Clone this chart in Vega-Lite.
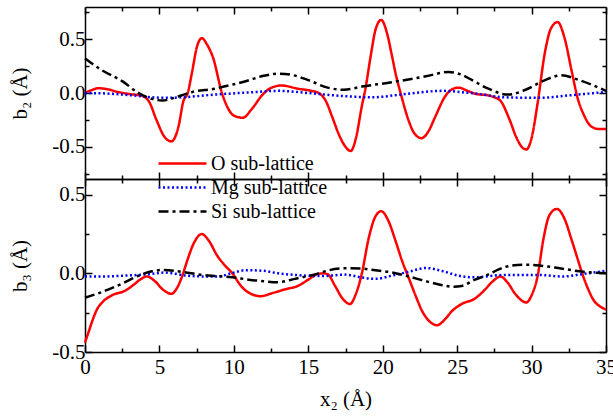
{
  "$schema": "https://vega.github.io/schema/vega-lite/v6.json",
  "padding": {"left": 9, "top": 1, "right": 9, "bottom": 5},
  "bounds": "flush",
  "spacing": 0,
  "config": {
    "view": {"stroke": null},
    "font": "Liberation Serif",
    "axis": {
      "labelFont": "Liberation Serif", "labelFontSize": 21, "labelColor": "#000",
      "titleFont": "Liberation Serif", "titleFontSize": 21, "titleFontWeight": "normal", "titleColor": "#000",
      "domainColor": "#000", "domainWidth": 1.5, "tickColor": "#000", "tickWidth": 1.5,
      "grid": false, "labelFlush": false, "labelOverlap": false
    },
    "legend": {
      "labelFont": "Liberation Serif", "labelFontSize": 20, "labelColor": "#000",
      "symbolType": "M-2,0H2", "symbolSize": 576, "symbolStrokeWidth": 2.5, "labelOffset": 15, "rowPadding": 0
    }
  },
  "datasets": {
    "top": [
      {"s":"O sub-lattice","x":0,"y":0.0},{"s":"O sub-lattice","x":0.5,"y":0.03},{"s":"O sub-lattice","x":0.9,"y":0.045},{"s":"O sub-lattice","x":1.5,"y":0.035},{"s":"O sub-lattice","x":2.2,"y":0.01},{"s":"O sub-lattice","x":3.0,"y":-0.01},{"s":"O sub-lattice","x":3.8,"y":-0.025},{"s":"O sub-lattice","x":4.3,"y":-0.08},{"s":"O sub-lattice","x":4.8,"y":-0.25},{"s":"O sub-lattice","x":5.3,"y":-0.40},{"s":"O sub-lattice","x":5.8,"y":-0.45},{"s":"O sub-lattice","x":6.3,"y":-0.30},{"s":"O sub-lattice","x":6.6,"y":-0.08},{"s":"O sub-lattice","x":6.9,"y":0.0},{"s":"O sub-lattice","x":7.2,"y":0.2},{"s":"O sub-lattice","x":7.5,"y":0.42},{"s":"O sub-lattice","x":7.85,"y":0.51},{"s":"O sub-lattice","x":8.2,"y":0.45},{"s":"O sub-lattice","x":8.6,"y":0.33},{"s":"O sub-lattice","x":9.2,"y":0.0},{"s":"O sub-lattice","x":9.6,"y":-0.14},{"s":"O sub-lattice","x":10.0,"y":-0.21},{"s":"O sub-lattice","x":10.6,"y":-0.23},{"s":"O sub-lattice","x":11.2,"y":-0.15},{"s":"O sub-lattice","x":11.9,"y":-0.02},{"s":"O sub-lattice","x":12.4,"y":0.04},{"s":"O sub-lattice","x":13.2,"y":0.07},{"s":"O sub-lattice","x":14.3,"y":0.04},{"s":"O sub-lattice","x":15.2,"y":0.02},{"s":"O sub-lattice","x":15.7,"y":0.0},{"s":"O sub-lattice","x":16.2,"y":-0.08},{"s":"O sub-lattice","x":16.6,"y":-0.22},{"s":"O sub-lattice","x":17.1,"y":-0.40},{"s":"O sub-lattice","x":17.5,"y":-0.50},{"s":"O sub-lattice","x":17.85,"y":-0.54},{"s":"O sub-lattice","x":18.2,"y":-0.42},{"s":"O sub-lattice","x":18.6,"y":-0.12},{"s":"O sub-lattice","x":18.85,"y":0.05},{"s":"O sub-lattice","x":19.2,"y":0.35},{"s":"O sub-lattice","x":19.5,"y":0.58},{"s":"O sub-lattice","x":19.9,"y":0.68},{"s":"O sub-lattice","x":20.3,"y":0.55},{"s":"O sub-lattice","x":20.6,"y":0.36},{"s":"O sub-lattice","x":20.9,"y":0.16},{"s":"O sub-lattice","x":21.2,"y":0.0},{"s":"O sub-lattice","x":21.75,"y":-0.26},{"s":"O sub-lattice","x":22.1,"y":-0.37},{"s":"O sub-lattice","x":22.6,"y":-0.42},{"s":"O sub-lattice","x":23.1,"y":-0.35},{"s":"O sub-lattice","x":23.5,"y":-0.23},{"s":"O sub-lattice","x":24.2,"y":-0.03},{"s":"O sub-lattice","x":24.6,"y":0.03},{"s":"O sub-lattice","x":25.1,"y":0.05},{"s":"O sub-lattice","x":25.7,"y":0.02},{"s":"O sub-lattice","x":26.3,"y":-0.01},{"s":"O sub-lattice","x":27.0,"y":-0.02},{"s":"O sub-lattice","x":27.5,"y":-0.04},{"s":"O sub-lattice","x":27.9,"y":-0.07},{"s":"O sub-lattice","x":28.5,"y":-0.24},{"s":"O sub-lattice","x":29.0,"y":-0.42},{"s":"O sub-lattice","x":29.4,"y":-0.51},{"s":"O sub-lattice","x":29.65,"y":-0.525},{"s":"O sub-lattice","x":30.0,"y":-0.42},{"s":"O sub-lattice","x":30.4,"y":-0.1},{"s":"O sub-lattice","x":30.9,"y":0.38},{"s":"O sub-lattice","x":31.3,"y":0.6},{"s":"O sub-lattice","x":31.75,"y":0.66},{"s":"O sub-lattice","x":32.2,"y":0.52},{"s":"O sub-lattice","x":32.7,"y":0.2},{"s":"O sub-lattice","x":33.1,"y":-0.05},{"s":"O sub-lattice","x":33.5,"y":-0.2},{"s":"O sub-lattice","x":34.0,"y":-0.31},{"s":"O sub-lattice","x":34.5,"y":-0.335},{"s":"O sub-lattice","x":35.0,"y":-0.335},
      {"s":"Mg sub-lattice","x":0,"y":0.0},{"s":"Mg sub-lattice","x":1.5,"y":-0.005},{"s":"Mg sub-lattice","x":3.0,"y":-0.02},{"s":"Mg sub-lattice","x":4.5,"y":-0.04},{"s":"Mg sub-lattice","x":5.5,"y":-0.045},{"s":"Mg sub-lattice","x":6.5,"y":-0.04},{"s":"Mg sub-lattice","x":8.7,"y":-0.015},{"s":"Mg sub-lattice","x":11.0,"y":0.005},{"s":"Mg sub-lattice","x":13.0,"y":0.02},{"s":"Mg sub-lattice","x":15.0,"y":0.0},{"s":"Mg sub-lattice","x":17.5,"y":-0.03},{"s":"Mg sub-lattice","x":19.3,"y":-0.04},{"s":"Mg sub-lattice","x":21.5,"y":-0.01},{"s":"Mg sub-lattice","x":24.0,"y":0.02},{"s":"Mg sub-lattice","x":25.5,"y":0.005},{"s":"Mg sub-lattice","x":26.5,"y":-0.01},{"s":"Mg sub-lattice","x":28.2,"y":-0.04},{"s":"Mg sub-lattice","x":30.5,"y":-0.045},{"s":"Mg sub-lattice","x":32.7,"y":-0.02},{"s":"Mg sub-lattice","x":35,"y":0.01},
      {"s":"Si sub-lattice","x":0,"y":0.32},{"s":"Si sub-lattice","x":1.1,"y":0.215},{"s":"Si sub-lattice","x":2.5,"y":0.11},{"s":"Si sub-lattice","x":3.6,"y":0.0},{"s":"Si sub-lattice","x":4.5,"y":-0.055},{"s":"Si sub-lattice","x":5.2,"y":-0.07},{"s":"Si sub-lattice","x":6.3,"y":-0.03},{"s":"Si sub-lattice","x":7.2,"y":0.01},{"s":"Si sub-lattice","x":8.7,"y":0.04},{"s":"Si sub-lattice","x":9.2,"y":0.055},{"s":"Si sub-lattice","x":10.8,"y":0.11},{"s":"Si sub-lattice","x":12.0,"y":0.16},{"s":"Si sub-lattice","x":13.0,"y":0.18},{"s":"Si sub-lattice","x":14.0,"y":0.165},{"s":"Si sub-lattice","x":15.0,"y":0.12},{"s":"Si sub-lattice","x":16.3,"y":0.05},{"s":"Si sub-lattice","x":17.4,"y":0.03},{"s":"Si sub-lattice","x":18.6,"y":0.06},{"s":"Si sub-lattice","x":20.6,"y":0.10},{"s":"Si sub-lattice","x":22.9,"y":0.155},{"s":"Si sub-lattice","x":24.4,"y":0.195},{"s":"Si sub-lattice","x":25.3,"y":0.17},{"s":"Si sub-lattice","x":26.0,"y":0.12},{"s":"Si sub-lattice","x":27.1,"y":0.04},{"s":"Si sub-lattice","x":28.4,"y":-0.015},{"s":"Si sub-lattice","x":29.6,"y":0.03},{"s":"Si sub-lattice","x":30.9,"y":0.12},{"s":"Si sub-lattice","x":32.0,"y":0.165},{"s":"Si sub-lattice","x":33.2,"y":0.12},{"s":"Si sub-lattice","x":35.0,"y":0.02}
    ],
    "bot": [
      {"s":"O sub-lattice","x":0,"y":-0.44},{"s":"O sub-lattice","x":0.25,"y":-0.37},{"s":"O sub-lattice","x":0.5,"y":-0.30},{"s":"O sub-lattice","x":0.8,"y":-0.23},{"s":"O sub-lattice","x":1.15,"y":-0.185},{"s":"O sub-lattice","x":1.8,"y":-0.14},{"s":"O sub-lattice","x":2.7,"y":-0.11},{"s":"O sub-lattice","x":3.3,"y":-0.07},{"s":"O sub-lattice","x":3.7,"y":-0.04},{"s":"O sub-lattice","x":4.15,"y":-0.02},{"s":"O sub-lattice","x":4.7,"y":-0.05},{"s":"O sub-lattice","x":5.2,"y":-0.1},{"s":"O sub-lattice","x":5.8,"y":-0.13},{"s":"O sub-lattice","x":6.2,"y":-0.09},{"s":"O sub-lattice","x":6.5,"y":-0.025},{"s":"O sub-lattice","x":6.9,"y":0.09},{"s":"O sub-lattice","x":7.3,"y":0.19},{"s":"O sub-lattice","x":7.85,"y":0.25},{"s":"O sub-lattice","x":8.3,"y":0.21},{"s":"O sub-lattice","x":8.9,"y":0.11},{"s":"O sub-lattice","x":9.4,"y":0.05},{"s":"O sub-lattice","x":9.9,"y":0.0},{"s":"O sub-lattice","x":10.4,"y":-0.07},{"s":"O sub-lattice","x":10.8,"y":-0.11},{"s":"O sub-lattice","x":11.8,"y":-0.145},{"s":"O sub-lattice","x":12.6,"y":-0.125},{"s":"O sub-lattice","x":13.5,"y":-0.1},{"s":"O sub-lattice","x":14.3,"y":-0.08},{"s":"O sub-lattice","x":15.0,"y":-0.04},{"s":"O sub-lattice","x":15.6,"y":-0.005},{"s":"O sub-lattice","x":16.0,"y":0.0},{"s":"O sub-lattice","x":16.3,"y":-0.005},{"s":"O sub-lattice","x":16.8,"y":-0.08},{"s":"O sub-lattice","x":17.3,"y":-0.16},{"s":"O sub-lattice","x":17.8,"y":-0.195},{"s":"O sub-lattice","x":18.2,"y":-0.13},{"s":"O sub-lattice","x":18.6,"y":0.0},{"s":"O sub-lattice","x":19.05,"y":0.22},{"s":"O sub-lattice","x":19.5,"y":0.36},{"s":"O sub-lattice","x":19.9,"y":0.395},{"s":"O sub-lattice","x":20.4,"y":0.33},{"s":"O sub-lattice","x":20.85,"y":0.21},{"s":"O sub-lattice","x":21.3,"y":0.08},{"s":"O sub-lattice","x":21.75,"y":-0.03},{"s":"O sub-lattice","x":22.2,"y":-0.14},{"s":"O sub-lattice","x":22.65,"y":-0.24},{"s":"O sub-lattice","x":23.2,"y":-0.31},{"s":"O sub-lattice","x":23.65,"y":-0.33},{"s":"O sub-lattice","x":24.2,"y":-0.29},{"s":"O sub-lattice","x":24.65,"y":-0.24},{"s":"O sub-lattice","x":25.3,"y":-0.195},{"s":"O sub-lattice","x":26.2,"y":-0.16},{"s":"O sub-lattice","x":26.8,"y":-0.11},{"s":"O sub-lattice","x":27.4,"y":-0.05},{"s":"O sub-lattice","x":27.9,"y":-0.02},{"s":"O sub-lattice","x":28.4,"y":-0.06},{"s":"O sub-lattice","x":28.9,"y":-0.13},{"s":"O sub-lattice","x":29.65,"y":-0.185},{"s":"O sub-lattice","x":30.0,"y":-0.14},{"s":"O sub-lattice","x":30.4,"y":-0.02},{"s":"O sub-lattice","x":30.8,"y":0.22},{"s":"O sub-lattice","x":31.2,"y":0.37},{"s":"O sub-lattice","x":31.7,"y":0.41},{"s":"O sub-lattice","x":32.2,"y":0.35},{"s":"O sub-lattice","x":32.7,"y":0.21},{"s":"O sub-lattice","x":33.1,"y":0.09},{"s":"O sub-lattice","x":33.4,"y":0.0},{"s":"O sub-lattice","x":33.8,"y":-0.1},{"s":"O sub-lattice","x":34.2,"y":-0.175},{"s":"O sub-lattice","x":34.6,"y":-0.21},{"s":"O sub-lattice","x":35.0,"y":-0.23},
      {"s":"Mg sub-lattice","x":0,"y":-0.02},{"s":"Mg sub-lattice","x":1.2,"y":-0.02},{"s":"Mg sub-lattice","x":2.5,"y":-0.015},{"s":"Mg sub-lattice","x":4.3,"y":-0.005},{"s":"Mg sub-lattice","x":5.3,"y":0.005},{"s":"Mg sub-lattice","x":6.9,"y":-0.015},{"s":"Mg sub-lattice","x":8.3,"y":-0.02},{"s":"Mg sub-lattice","x":9.0,"y":-0.02},{"s":"Mg sub-lattice","x":9.8,"y":0.0},{"s":"Mg sub-lattice","x":10.8,"y":0.02},{"s":"Mg sub-lattice","x":11.9,"y":0.017},{"s":"Mg sub-lattice","x":13.0,"y":0.0},{"s":"Mg sub-lattice","x":14.1,"y":-0.01},{"s":"Mg sub-lattice","x":15.9,"y":-0.017},{"s":"Mg sub-lattice","x":17.5,"y":-0.008},{"s":"Mg sub-lattice","x":18.5,"y":-0.025},{"s":"Mg sub-lattice","x":19.5,"y":-0.035},{"s":"Mg sub-lattice","x":20.6,"y":-0.015},{"s":"Mg sub-lattice","x":21.75,"y":0.01},{"s":"Mg sub-lattice","x":22.9,"y":0.034},{"s":"Mg sub-lattice","x":24.0,"y":0.015},{"s":"Mg sub-lattice","x":25.1,"y":-0.015},{"s":"Mg sub-lattice","x":26.2,"y":-0.025},{"s":"Mg sub-lattice","x":28.2,"y":-0.01},{"s":"Mg sub-lattice","x":30.5,"y":-0.01},{"s":"Mg sub-lattice","x":32.1,"y":-0.02},{"s":"Mg sub-lattice","x":33.4,"y":-0.005},{"s":"Mg sub-lattice","x":35.0,"y":0.017},
      {"s":"Si sub-lattice","x":0,"y":-0.155},{"s":"Si sub-lattice","x":1.1,"y":-0.12},{"s":"Si sub-lattice","x":2.5,"y":-0.065},{"s":"Si sub-lattice","x":3.6,"y":-0.015},{"s":"Si sub-lattice","x":4.5,"y":0.013},{"s":"Si sub-lattice","x":5.3,"y":0.022},{"s":"Si sub-lattice","x":6.5,"y":0.01},{"s":"Si sub-lattice","x":7.9,"y":-0.01},{"s":"Si sub-lattice","x":8.9,"y":-0.017},{"s":"Si sub-lattice","x":9.9,"y":-0.025},{"s":"Si sub-lattice","x":11.0,"y":-0.04},{"s":"Si sub-lattice","x":12.0,"y":-0.05},{"s":"Si sub-lattice","x":12.9,"y":-0.057},{"s":"Si sub-lattice","x":14.1,"y":-0.035},{"s":"Si sub-lattice","x":15.7,"y":0.0},{"s":"Si sub-lattice","x":16.4,"y":0.02},{"s":"Si sub-lattice","x":17.5,"y":0.032},{"s":"Si sub-lattice","x":18.6,"y":0.03},{"s":"Si sub-lattice","x":19.5,"y":0.02},{"s":"Si sub-lattice","x":20.6,"y":0.006},{"s":"Si sub-lattice","x":21.75,"y":-0.02},{"s":"Si sub-lattice","x":22.9,"y":-0.05},{"s":"Si sub-lattice","x":24.0,"y":-0.075},{"s":"Si sub-lattice","x":24.65,"y":-0.085},{"s":"Si sub-lattice","x":25.3,"y":-0.08},{"s":"Si sub-lattice","x":26.2,"y":-0.04},{"s":"Si sub-lattice","x":26.9,"y":-0.015},{"s":"Si sub-lattice","x":28.2,"y":0.04},{"s":"Si sub-lattice","x":29.4,"y":0.055},{"s":"Si sub-lattice","x":30.5,"y":0.05},{"s":"Si sub-lattice","x":31.8,"y":0.034},{"s":"Si sub-lattice","x":33.2,"y":0.013},{"s":"Si sub-lattice","x":35.0,"y":0.0}
    ]
  },
  "resolve": {"scale": {"color": "independent", "strokeDash": "independent"}},
  "vconcat": [
    {
      "width": 521, "height": 172,
      "data": {"name": "top"},
      "resolve": {"axis": {"x": "independent", "y": "independent"}},
      "layer": [
        {
          "mark": {"type": "line", "interpolate": "monotone", "strokeWidth": 2.5},
          "encoding": {
            "x": {"field": "x", "type": "quantitative", "scale": {"domain": [0, 35], "nice": false},
              "axis": {"orient": "bottom", "values": [0,2.5,5,7.5,10,12.5,15,17.5,20,22.5,25,27.5,30,32.5,35], "labels": false, "title": null,
                "tickSize": {"condition": {"test": "datum.value % 5 === 0", "value": -7}, "value": -4}}},
            "y": {"field": "y", "type": "quantitative", "scale": {"domain": [-0.8, 0.8], "nice": false, "zero": false},
              "axis": {"orient": "left", "values": [-0.75,-0.5,-0.25,0,0.25,0.5,0.75], "title": "b₂ (Å)", "titlePadding": 21, "labelPadding": 7,
                "labelExpr": "round(datum.value*4) % 2 === 0 ? (datum.value < 0 ? '-' : '') + format(abs(datum.value), '.1f') : ''",
                "tickSize": {"condition": {"test": "round(datum.value*4) % 2 === 0", "value": -7}, "value": -4}}},
            "color": {"field": "s", "type": "nominal", "sort": null,
              "scale": {"domain": ["O sub-lattice", "Mg sub-lattice", "Si sub-lattice"], "range": ["#ff0000", "#0000ff", "#000000"]},
              "legend": {"orient": "none", "legendX": 84, "legendY": 143, "title": null}},
            "strokeDash": {"field": "s", "type": "nominal", "sort": null,
              "scale": {"domain": ["O sub-lattice", "Mg sub-lattice", "Si sub-lattice"], "range": [[1, 0], [2, 2.5], [10, 4, 3, 4]]},
              "legend": {"orient": "none", "legendX": 84, "legendY": 143, "title": null}}
          }
        },
        {
          "mark": {"type": "point", "opacity": 0},
          "encoding": {
            "x": {"field": "x", "type": "quantitative", "scale": {"domain": [0, 35], "nice": false},
              "axis": {"orient": "top", "values": [0,2.5,5,7.5,10,12.5,15,17.5,20,22.5,25,27.5,30,32.5,35], "labels": false, "title": null,
                "tickSize": {"condition": {"test": "datum.value % 5 === 0", "value": -7}, "value": -4}}},
            "y": {"field": "y", "type": "quantitative", "scale": {"domain": [-0.8, 0.8], "nice": false, "zero": false},
              "axis": {"orient": "right", "values": [-0.75,-0.5,-0.25,0,0.25,0.5,0.75], "labels": false, "title": null,
                "tickSize": {"condition": {"test": "round(datum.value*4) % 2 === 0", "value": -7}, "value": -4}}}
          }
        }
      ]
    },
    {
      "width": 521, "height": 173,
      "data": {"name": "bot"},
      "resolve": {"axis": {"x": "independent", "y": "independent"}},
      "layer": [
        {
          "mark": {"type": "line", "interpolate": "monotone", "strokeWidth": 2.5},
          "encoding": {
            "x": {"field": "x", "type": "quantitative", "scale": {"domain": [0, 35], "nice": false},
              "axis": {"orient": "bottom", "values": [0,2.5,5,7.5,10,12.5,15,17.5,20,22.5,25,27.5,30,32.5,35], "title": "x₂ (Å)", "titlePadding": 8, "labelPadding": 11,
                "labelExpr": "datum.value % 5 === 0 ? format(datum.value, 'd') : ''",
                "tickSize": {"condition": {"test": "datum.value % 5 === 0", "value": -7}, "value": -4}}},
            "y": {"field": "y", "type": "quantitative", "scale": {"domain": [-0.5, 0.6], "nice": false, "zero": false},
              "axis": {"orient": "left", "values": [-0.5,-0.25,0,0.25,0.5], "title": "b₃ (Å)", "titlePadding": 21, "labelPadding": 7,
                "labelExpr": "round(datum.value*4) % 2 === 0 ? (datum.value < 0 ? '-' : '') + format(abs(datum.value), '.1f') : ''",
                "tickSize": {"condition": {"test": "round(datum.value*4) % 2 === 0", "value": -7}, "value": -4}}},
            "color": {"field": "s", "type": "nominal", "sort": null,
              "scale": {"domain": ["O sub-lattice", "Mg sub-lattice", "Si sub-lattice"], "range": ["#ff0000", "#0000ff", "#000000"]},
              "legend": null},
            "strokeDash": {"field": "s", "type": "nominal", "sort": null,
              "scale": {"domain": ["O sub-lattice", "Mg sub-lattice", "Si sub-lattice"], "range": [[1, 0], [2, 2.5], [10, 4, 3, 4]]},
              "legend": null}
          }
        },
        {
          "mark": {"type": "point", "opacity": 0},
          "encoding": {
            "x": {"field": "x", "type": "quantitative", "scale": {"domain": [0, 35], "nice": false},
              "axis": {"orient": "top", "values": [0,2.5,5,7.5,10,12.5,15,17.5,20,22.5,25,27.5,30,32.5,35], "labels": false, "title": null,
                "tickSize": {"condition": {"test": "datum.value % 5 === 0", "value": -7}, "value": -4}}},
            "y": {"field": "y", "type": "quantitative", "scale": {"domain": [-0.5, 0.6], "nice": false, "zero": false},
              "axis": {"orient": "right", "values": [-0.5,-0.25,0,0.25,0.5], "labels": false, "title": null,
                "tickSize": {"condition": {"test": "round(datum.value*4) % 2 === 0", "value": -7}, "value": -4}}}
          }
        }
      ]
    }
  ]
}
